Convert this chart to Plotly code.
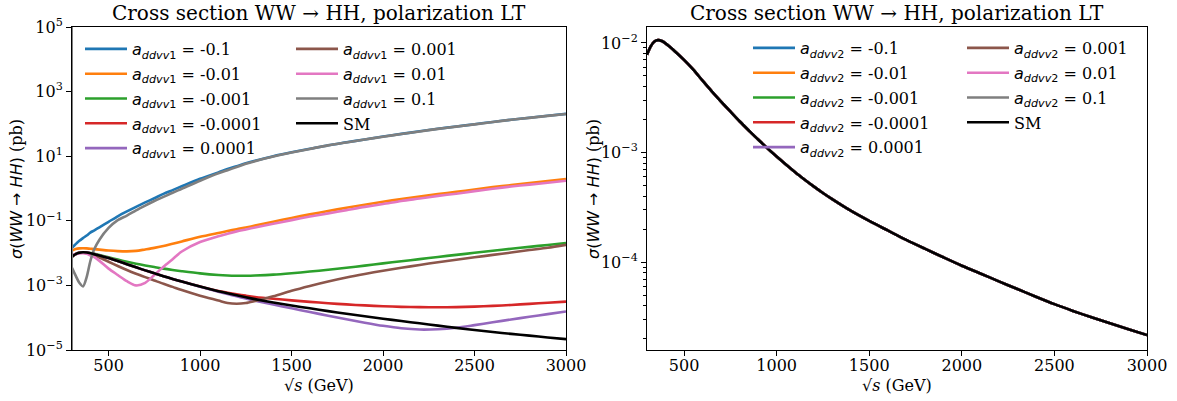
import plotly.graph_objects as go

# sqrt(s) in GeV
X = [300, 320, 340, 360, 380, 400, 420, 450, 500, 550, 600, 650, 700, 750, 800, 850, 900,
     1000, 1100, 1150, 1200, 1250, 1300, 1400, 1500, 1600, 1700, 1800, 1900, 2000, 2100,
     2200, 2300, 2400, 2500, 2600, 2700, 2800, 2900, 3000]

SM = [7.8e-3, 9.3e-3, 1.03e-2, 1.06e-2, 1.04e-2, 9.9e-3, 9.3e-3, 8.4e-3, 7.0e-3, 5.7e-3, 4.53e-3,
      3.62e-3, 2.92e-3, 2.37e-3, 1.93e-3, 1.59e-3, 1.315e-3, 9.2e-4, 6.62e-4, 5.69e-4, 4.92e-4,
      4.28e-4, 3.76e-4, 2.95e-4, 2.38e-4, 1.95e-4, 1.6e-4, 1.33e-4, 1.11e-4, 9.3e-5, 7.9e-5, 6.7e-5,
      5.7e-5, 4.85e-5, 4.15e-5, 3.6e-5, 3.15e-5, 2.78e-5, 2.45e-5, 2.17e-5]

A1_M1E1 = [1.45e-2, 1.9e-2, 2.4e-2, 2.9e-2, 3.5e-2, 4.3e-2, 5.0e-2, 6.3e-2, 9.3e-2, 0.138, 0.195,
           0.27, 0.37, 0.50, 0.68, 0.89, 1.17, 2.0, 3.16, 4.0, 4.9, 6.0, 7.2, 10.0, 13.2, 17.0, 21.9,
           26.9, 33.1, 40.7, 49.0, 58.9, 70.8, 83.2, 97.7, 115, 135, 155, 178, 204]
A1_M1E2 = [1.2e-2, 1.33e-2, 1.4e-2, 1.42e-2, 1.4e-2, 1.37e-2, 1.33e-2, 1.28e-2, 1.2e-2, 1.15e-2,
           1.13e-2, 1.17e-2, 1.3e-2, 1.45e-2, 1.65e-2, 1.95e-2, 2.3e-2, 3.2e-2, 4.2e-2, 4.8e-2,
           5.5e-2, 6.2e-2, 7.1e-2, 9.3e-2, 0.123, 0.158, 0.2, 0.254, 0.315, 0.39, 0.47, 0.56, 0.67,
           0.79, 0.93, 1.1, 1.27, 1.48, 1.7, 1.95]
A1_M1E3 = [7.8e-3, 9.3e-3, 1.03e-2, 1.06e-2, 1.04e-2, 1.0e-2, 9.5e-3, 8.7e-3, 7.4e-3, 6.3e-3, 5.4e-3,
           4.7e-3, 4.15e-3, 3.7e-3, 3.3e-3, 3.0e-3, 2.75e-3, 2.35e-3, 2.1e-3, 2.03e-3, 2.0e-3, 2.0e-3,
           2.03e-3, 2.15e-3, 2.38e-3, 2.68e-3, 3.05e-3, 3.5e-3, 4.1e-3, 4.8e-3, 5.6e-3, 6.5e-3, 7.6e-3,
           8.8e-3, 1.02e-2, 1.18e-2, 1.36e-2, 1.56e-2, 1.79e-2, 2.05e-2]
A1_M1E4 = [7.8e-3, 9.3e-3, 1.03e-2, 1.06e-2, 1.04e-2, 9.9e-3, 9.3e-3, 8.4e-3, 7.0e-3, 5.7e-3, 4.53e-3,
           3.62e-3, 2.92e-3, 2.37e-3, 1.93e-3, 1.59e-3, 1.315e-3, 9.2e-4, 6.7e-4, 5.95e-4, 5.33e-4,
           4.82e-4, 4.4e-4, 3.85e-4, 3.45e-4, 3.1e-4, 2.8e-4, 2.58e-4, 2.4e-4, 2.27e-4, 2.17e-4,
           2.12e-4, 2.1e-4, 2.13e-4, 2.2e-4, 2.32e-4, 2.48e-4, 2.68e-4, 2.9e-4, 3.15e-4]
A1_P1E4 = [7.8e-3, 9.3e-3, 1.03e-2, 1.06e-2, 1.04e-2, 9.9e-3, 9.3e-3, 8.4e-3, 7.0e-3, 5.7e-3, 4.53e-3,
           3.62e-3, 2.92e-3, 2.37e-3, 1.93e-3, 1.59e-3, 1.315e-3, 9.1e-4, 6.4e-4, 5.4e-4, 4.6e-4,
           3.9e-4, 3.35e-4, 2.55e-4, 1.95e-4, 1.5e-4, 1.15e-4, 8.9e-5, 7.0e-5, 5.6e-5, 4.7e-5, 4.3e-5,
           4.4e-5, 4.9e-5, 5.9e-5, 7.2e-5, 8.8e-5, 1.07e-4, 1.29e-4, 1.55e-4]
A1_P1E3 = [7.8e-3, 9.3e-3, 1.02e-2, 1.04e-2, 1.0e-2, 9.4e-3, 8.6e-3, 7.3e-3, 5.4e-3, 4.0e-3, 3.0e-3,
           2.3e-3, 1.8e-3, 1.42e-3, 1.12e-3, 9.0e-4, 7.2e-4, 4.8e-4, 3.4e-4, 2.85e-4, 2.7e-4, 2.85e-4,
           3.3e-4, 4.6e-4, 6.8e-4, 9.6e-4, 1.32e-3, 1.75e-3, 2.25e-3, 2.85e-3, 3.5e-3, 4.3e-3, 5.2e-3,
           6.2e-3, 7.4e-3, 8.8e-3, 1.04e-2, 1.24e-2, 1.47e-2, 1.8e-2]
A1_P1E2 = [8.6e-3, 9.3e-3, 9.8e-3, 1.0e-2, 9.6e-3, 8.5e-3, 7.6e-3, 5.75e-3, 3.3e-3, 2.1e-3, 1.35e-3,
           1.0e-3, 1.2e-3, 2.1e-3, 3.8e-3, 6.5e-3, 1.12e-2, 2.2e-2, 3.3e-2, 4.0e-2, 4.7e-2, 5.4e-2,
           6.2e-2, 8.1e-2, 0.105, 0.135, 0.17, 0.214, 0.27, 0.33, 0.41, 0.49, 0.59, 0.69, 0.83, 0.98,
           1.15, 1.32, 1.51, 1.74]
A1_P1E1 = [3.5e-3, 2.0e-3, 1.2e-3, 9.3e-4, 1.8e-3, 5.6e-3, 1.26e-2, 2.6e-2, 6.0e-2, 0.105, 0.145,
           0.21, 0.295, 0.41, 0.55, 0.74, 0.98, 1.74, 2.95, 3.7, 4.6, 5.8, 7.0, 9.8, 13.0, 16.8, 21.6,
           26.6, 32.7, 40.2, 48.5, 58.3, 70.1, 82.4, 96.8, 114, 134, 154, 177, 203]

COUPLINGS = ["-0.1", "-0.01", "-0.001", "-0.0001", "0.0001", "0.001", "0.01", "0.1"]
LEFT_SERIES = [A1_M1E1, A1_M1E2, A1_M1E3, A1_M1E4, A1_P1E4, A1_P1E3, A1_P1E2, A1_P1E1]
# In the right panel every a_ddvv2 curve coincides with the SM curve
RIGHT_SERIES = [SM] * 8

COLORS = ["#1f77b4", "#ff7f0e", "#2ca02c", "#d62728", "#9467bd", "#8c564b", "#e377c2", "#7f7f7f"]
SERIF = "DejaVu Serif"
SANS = "DejaVu Sans"
TITLE = "Cross section WW \u2192 HH, polarization LT"
W, H = 1177, 401
LW = 2.6


def lab(idx, val):
    return (f'<span style="font-family:{SANS}"><i>a</i><sub><i>ddvv</i>{idx}</sub></span> = {val}')


fig = go.Figure()
for panel, series, idx, xa, ya, lg1, lg2 in [
    (0, LEFT_SERIES, 1, "x", "y", "legend", "legend2"),
    (1, RIGHT_SERIES, 2, "x2", "y2", "legend3", "legend4"),
]:
    for i, (c, s) in enumerate(zip(COUPLINGS, series)):
        fig.add_trace(go.Scatter(
            x=X, y=s, mode="lines", name=lab(idx, c),
            line=dict(color=COLORS[i], width=LW, shape="spline", smoothing=0.8),
            xaxis=xa, yaxis=ya, legend=lg1 if i < 5 else lg2,
            legendgroup=f"p{panel}g{i}", hoverinfo="skip"))
    fig.add_trace(go.Scatter(
        x=X, y=SM, mode="lines", name="SM",
        line=dict(color="black", width=LW, shape="spline", smoothing=0.8),
        xaxis=xa, yaxis=ya, legend=lg2, legendgroup=f"p{panel}sm", hoverinfo="skip"))

px = lambda v: v / W
py = lambda v: 1 - v / H

L_DOM = [px(72), px(566)]
R_DOM = [px(647), px(1147)]
Y_DOM = [py(350), py(27)]

tickfont = dict(family=SERIF, size=16, color="black")
common_x = dict(range=[300, 3000], tickvals=[500, 1000, 1500, 2000, 2500, 3000],
                ticks="outside", ticklen=5, tickwidth=1, tickcolor="black", ticklabelstandoff=-4,
                showline=True, linecolor="black", linewidth=1, mirror=True, automargin=False,
                showgrid=False, zeroline=False, tickfont=tickfont)
common_y = dict(type="log", ticks="outside", ticklen=5, tickwidth=1, tickcolor="black",
                showline=True, linecolor="black", linewidth=1, mirror=True, automargin=False,
                showgrid=False, zeroline=False, tickfont=tickfont, domain=Y_DOM)

def sup(e):
    return "10<sup>" + (str(e) if e >= 0 else "\u2212" + str(-e)) + "</sup>"

left_exps = [5, 3, 1, -1, -3, -5]
right_exps = [-2, -3, -4]
minor_vals = [m * 10.0 ** e for e in [-5, -4, -3, -2] for m in range(2, 10)]

fig.update_layout(
    width=W, height=H, margin=dict(l=0, r=0, t=0, b=0, autoexpand=False),
    paper_bgcolor="white", plot_bgcolor="white",
    xaxis=dict(common_x, domain=L_DOM, anchor="y"),
    yaxis=dict(common_y, range=[-5, 5], anchor="x",
               tickvals=[10.0 ** e for e in left_exps], ticktext=[sup(e) for e in left_exps]),
    xaxis2=dict(common_x, domain=R_DOM, anchor="y2"),
    yaxis2=dict(common_y, range=[-4.80, -1.855], anchor="x2",
                tickvals=[10.0 ** e for e in right_exps], ticktext=[sup(e) for e in right_exps],
                minor=dict(tickvals=minor_vals, ticks="outside", ticklen=3,
                           tickcolor="black", tickwidth=1, showgrid=False)),
    showlegend=True,
)

leg_common = dict(font=dict(family=SERIF, size=16, color="black"), bgcolor="rgba(0,0,0,0)",
                  borderwidth=0, orientation="v", xanchor="left", yanchor="top",
                  tracegroupgap=1, itemwidth=42, itemclick=False, itemdoubleclick=False)
fig.update_layout(
    legend=dict(leg_common, x=px(80), y=py(32)),
    legend2=dict(leg_common, x=px(291), y=py(32)),
    legend3=dict(leg_common, x=px(748), y=py(31)),
    legend4=dict(leg_common, x=px(962), y=py(31)),
)

# titles
for cx in [(72 + 566) / 2, (647 + 1147) / 2]:
    fig.add_annotation(text=TITLE, x=px(cx), y=py(13), xref="paper", yref="paper",
                       showarrow=False, font=dict(family=SERIF, size=20, color="black"),
                       xanchor="center", yanchor="middle")
    fig.add_annotation(text="\u221a<i>s</i> (GeV)", x=px(cx), y=py(385), xref="paper", yref="paper",
                       showarrow=False, font=dict(family=SERIF, size=16, color="black"),
                       xanchor="center", yanchor="middle")

ylab = (f'<span style="font-family:{SANS}"><i>\u03c3</i>(<i>WW</i> \u2192 <i>HH</i>)</span> (pb)')
for xx in [16, 593]:
    fig.add_annotation(text=ylab, x=px(xx), y=py(189), xref="paper", yref="paper",
                       showarrow=False, textangle=-90,
                       font=dict(family=SERIF, size=16, color="black"),
                       xanchor="center", yanchor="middle")

# left spine of the left panel appears grey in the original
fig.add_shape(type="line", xref="x", yref="y domain", x0=300, x1=300, y0=0, y1=1,
              line=dict(color="#7f7f7f", width=2), layer="above")

# remove the default page margin so the figure sits at the window origin
fig.write_html("out.html", config={"displayModeBar": False},
               post_script="document.body.style.margin='0';document.body.style.overflow='hidden';")
